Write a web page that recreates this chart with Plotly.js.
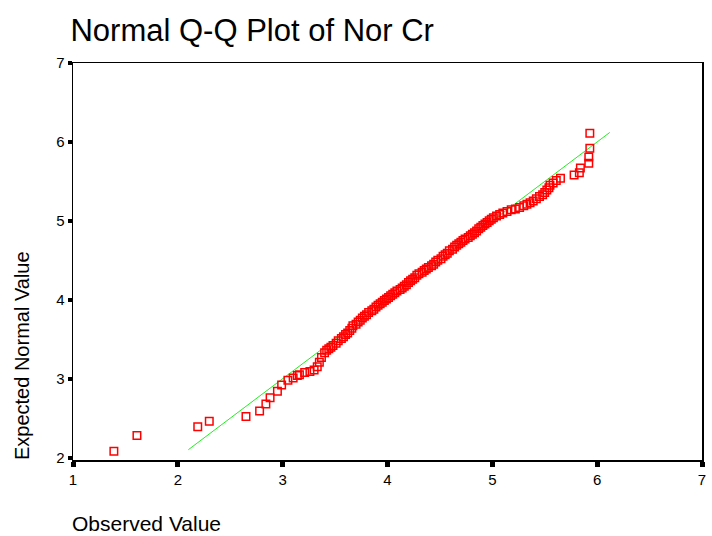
<!DOCTYPE html>
<html>
<head>
<meta charset="utf-8">
<script src="https://cdn.plot.ly/plotly-3.0.1.min.js"></script>
<style>html,body{margin:0;padding:0;background:#fff;}#chart{width:712px;height:536px;}</style>
</head>
<body>
<div id="chart"></div>
<script>
var observed = [
1.39,1.61,2.19,2.30,2.65,2.78,2.84,2.88,2.95,2.99,
3.05,3.10,3.14,3.16,3.21,3.26,3.30,3.33,3.35,3.37,
3.40,3.42,3.44,3.46,3.48,3.51,3.53,3.56,3.58,3.60,
3.62,3.64,3.66,3.67,3.70,3.72,3.74,3.76,3.78,3.80,
3.82,3.85,3.87,3.89,3.91,3.93,3.95,3.97,3.99,4.01,
4.03,4.05,4.07,4.09,4.12,4.14,4.16,4.18,4.20,4.22,
4.24,4.26,4.28,4.30,4.33,4.35,4.37,4.39,4.42,4.44,
4.46,4.48,4.51,4.53,4.55,4.57,4.59,4.62,4.64,4.66,
4.68,4.70,4.72,4.74,4.77,4.79,4.81,4.83,4.85,4.87,
4.89,4.91,4.93,4.95,4.97,4.99,5.01,5.04,5.07,5.10,
5.14,5.18,5.22,5.26,5.30,5.33,5.36,5.39,5.42,5.45,
5.48,5.50,5.52,5.54,5.55,5.58,5.61,5.65,5.78,5.83,
5.84,5.92,5.92,5.93,5.93
];
var expected = [
2.08,2.28,2.39,2.46,2.52,2.59,2.68,2.76,2.84,2.92,
2.98,3.01,3.04,3.05,3.08,3.09,3.11,3.15,3.21,3.27,
3.33,3.36,3.38,3.40,3.42,3.45,3.48,3.51,3.53,3.56,
3.58,3.61,3.64,3.67,3.69,3.72,3.74,3.77,3.79,3.81,
3.84,3.86,3.88,3.91,3.93,3.95,3.97,3.99,4.01,4.03,
4.05,4.07,4.09,4.11,4.13,4.15,4.17,4.19,4.22,4.24,
4.26,4.28,4.31,4.33,4.35,4.37,4.39,4.41,4.43,4.45,
4.48,4.50,4.52,4.55,4.57,4.59,4.62,4.64,4.67,4.69,
4.71,4.73,4.75,4.77,4.79,4.81,4.83,4.85,4.87,4.90,
4.92,4.94,4.96,4.98,5.00,5.02,5.04,5.06,5.08,5.10,
5.12,5.14,5.15,5.17,5.19,5.21,5.23,5.25,5.28,5.31,
5.33,5.36,5.39,5.42,5.45,5.48,5.51,5.54,5.58,5.61,
5.67,5.73,5.81,5.92,6.11
];
// Reference line endpoints
var lineX = [2.10, 6.12];
var lineY = [2.10, 6.12];
// Axis ticks
var xTicks = [1,2,3,4,5,6,7];
var yTicks = [2,3,4,5,6,7];

var fontFam = 'Arial, "Liberation Sans", sans-serif';

var traces = [
  {x: lineX, y: lineY, type: 'scatter', mode: 'lines',
   line: {color: '#22ee22', width: 1}, hoverinfo: 'skip', showlegend: false},
  {x: observed, y: expected, type: 'scatter', mode: 'markers',
   marker: {symbol: 'square-open', size: 7.5, color: '#ff0000', line: {width: 1.5, color: '#ff0000'}},
   showlegend: false}
];

var layout = {
  width: 712, height: 536,
  margin: {l: 73, r: 10, t: 63, b: 76},
  paper_bgcolor: '#ffffff', plot_bgcolor: '#ffffff',
  font: {family: fontFam, color: '#000000', size: 15},
  title: {text: 'Normal Q-Q Plot of Nor Cr', xref: 'container', x: 0.099, xanchor: 'left',
          yref: 'container', y: 0.944, yanchor: 'middle',
          font: {family: fontFam, size: 31, color: '#000000'}},
  xaxis: {range: [1, 7], tickvals: xTicks, ticktext: xTicks.map(String),
          showgrid: false, zeroline: false, showline: true, linecolor: '#000000', linewidth: 1.5,
          mirror: true, ticks: 'outside', ticklen: 5, tickwidth: 5, tickcolor: '#000000',
          tickfont: {family: fontFam, size: 15, color: '#000000'}},
  yaxis: {range: [1.97, 7], tickvals: yTicks, ticktext: yTicks.map(String),
          showgrid: false, zeroline: false, showline: true, linecolor: '#000000', linewidth: 1.5,
          mirror: true, ticks: 'outside', ticklen: 4, tickwidth: 4, tickcolor: '#000000',
          tickfont: {family: fontFam, size: 15, color: '#000000'}},
  annotations: [
    {text: 'Observed Value', xref: 'paper', yref: 'paper', x: -0.005, y: -0.161,
     xanchor: 'left', yanchor: 'middle', showarrow: false,
     font: {family: fontFam, size: 21, color: '#000000'}},
    {text: 'Expected Normal Value', xref: 'paper', yref: 'paper', x: -0.081, y: 0.262,
     xanchor: 'center', yanchor: 'middle', textangle: -90, showarrow: false,
     font: {family: fontFam, size: 20, color: '#000000'}}
  ]
};

Plotly.newPlot('chart', traces, layout, {displayModeBar: false, staticPlot: true});
</script>
</body>
</html>
